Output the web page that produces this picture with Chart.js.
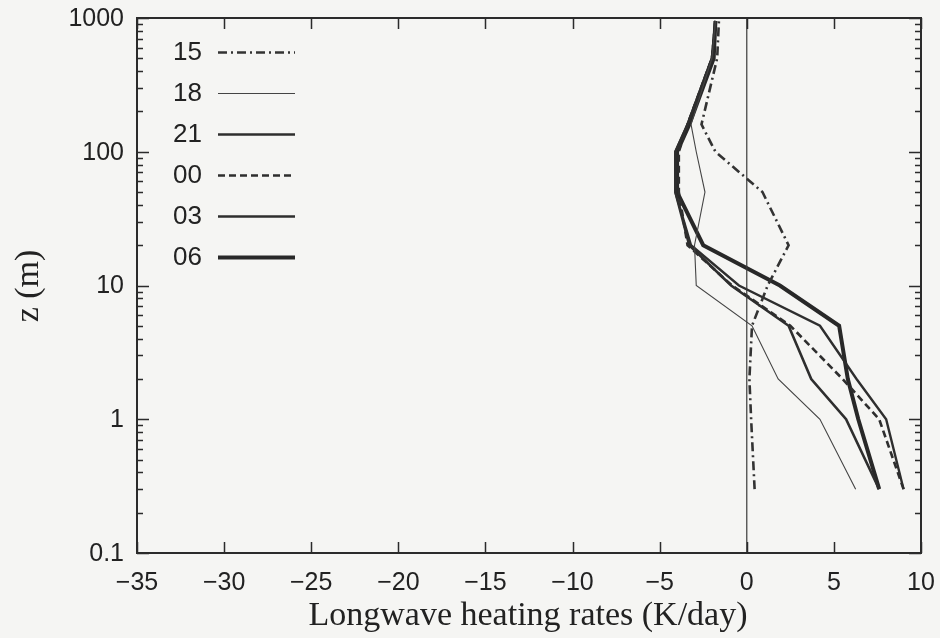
<!DOCTYPE html>
<html>
<head>
<meta charset="utf-8">
<script src="https://cdn.jsdelivr.net/npm/chart.js@4"></script>
<style>
  html, body { margin: 0; padding: 0; background: #f5f5f3; }
</style>
</head>
<body>
<canvas id="chart" width="940" height="638"></canvas>
<script>
// Heights of the model levels (m)
const heights = [0.3, 1, 2, 5, 10, 20, 50, 100, 160, 500, 950];

// Longwave heating rate profiles (K/day), one per hour of day
const hourLabels = ['15', '18', '21', '00', '03', '06'];
const rate15 = [0.45, 0.25, 0.15, 0.3, 1.2, 2.4, 0.9, -1.8, -2.6, -1.7, -1.6];
const rate18 = [6.25, 4.2, 1.8, 0.3, -2.9, -3.0, -2.4, -2.9, -3.2, -2.0, -1.8];
const rate21 = [9.0, 8.0, 6.3, 4.2, -0.45, -3.2, -4.1, -4.1, -3.4, -2.0, -1.8];
const rate00 = [9.0, 7.6, 5.5, 2.5, -0.85, -3.4, -3.9, -3.9, -3.4, -2.0, -1.8];
const rate03 = [7.6, 5.7, 3.7, 2.4, -0.9, -3.3, -4.1, -4.1, -3.4, -2.0, -1.8];
const rate06 = [7.6, 6.4, 5.8, 5.3, 1.9, -2.5, -4.0, -4.0, -3.3, -1.9, -1.8];

// Zero heating reference line
const zeroLineX = [0, 0];
const zeroLineZ = [0.1, 1000];

// Axis ticks
const xTicks = [-35, -30, -25, -20, -15, -10, -5, 0, 5, 10];
const xTickLabels = ['\u221235', '\u221230', '\u221225', '\u221220', '\u221215', '\u221210', '\u22125', '0', '5', '10'];
const yTicks = [0.1, 1, 10, 100, 1000];
const yTickLabels = ['0.1', '1', '10', '100', '1000'];

const ink = '#2b2b2b';

function profile(rates) {
  return heights.map((z, i) => ({ x: rates[i], y: z }));
}

const styles = [
  { rates: rate15, width: 2.6, dash: [9, 4, 2, 4], color: '#333' },
  { rates: rate18, width: 1.1, dash: [], color: '#444' },
  { rates: rate21, width: 2.4, dash: [], color: '#2e2e2e' },
  { rates: rate00, width: 2.6, dash: [7, 4], color: '#2e2e2e' },
  { rates: rate03, width: 2.6, dash: [], color: '#2e2e2e' },
  { rates: rate06, width: 4.0, dash: [], color: '#282828' }
];

const datasets = [{
  label: 'zero',
  data: zeroLineX.map((x, i) => ({ x: x, y: zeroLineZ[i] })),
  showLine: true, borderColor: '#3a3a3a', borderWidth: 1.2, pointRadius: 0, fill: false
}].concat(styles.map((s, i) => ({
  label: hourLabels[i],
  data: profile(s.rates),
  showLine: true,
  borderColor: s.color,
  borderWidth: s.width,
  borderDash: s.dash,
  pointRadius: 0,
  fill: false,
  tension: 0
})));

const framePlugin = {
  id: 'frame',
  beforeDraw(chart) {
    const c = chart.ctx;
    c.save();
    c.fillStyle = '#f5f5f3';
    c.fillRect(0, 0, chart.width, chart.height);
    c.restore();
  },
  afterDatasetsDraw(chart) {
    const c = chart.ctx;
    const a = chart.chartArea;
    const xs = chart.scales.x, ys = chart.scales.y;
    c.save();
    c.strokeStyle = ink;
    c.lineWidth = 2;
    c.setLineDash([]);
    c.strokeRect(a.left, a.top, a.right - a.left, a.bottom - a.top);

    // x ticks, inward on bottom and top
    c.lineWidth = 1.5;
    xTicks.forEach(v => {
      const px = Math.round(xs.getPixelForValue(v)) + 0.5;
      c.beginPath();
      c.moveTo(px, a.bottom); c.lineTo(px, a.bottom - 11);
      c.moveTo(px, a.top); c.lineTo(px, a.top + 11);
      c.stroke();
    });
    // y ticks, major and minor, inward on left and right
    const yMinor = [];
    for (let d = 0; d < yTicks.length - 1; d++) {
      for (let m = 2; m <= 9; m++) yMinor.push(yTicks[d] * m);
    }
    yTicks.forEach(v => {
      const py = Math.round(ys.getPixelForValue(v)) + 0.5;
      c.beginPath();
      c.moveTo(a.left, py); c.lineTo(a.left + 12, py);
      c.moveTo(a.right, py); c.lineTo(a.right - 12, py);
      c.stroke();
    });
    yMinor.forEach(v => {
      const py = Math.round(ys.getPixelForValue(v)) + 0.5;
      c.beginPath();
      c.moveTo(a.left, py); c.lineTo(a.left + 6, py);
      c.moveTo(a.right, py); c.lineTo(a.right - 6, py);
      c.stroke();
    });

    // tick labels
    c.fillStyle = '#222';
    c.font = '25px "Liberation Sans", Arial, sans-serif';
    c.textAlign = 'center';
    c.textBaseline = 'middle';
    xTicks.forEach((v, i) => {
      c.fillText(xTickLabels[i], xs.getPixelForValue(v), a.bottom + 30);
    });
    c.textAlign = 'right';
    yTicks.forEach((v, i) => {
      c.fillText(yTickLabels[i], a.left - 13, ys.getPixelForValue(v) + 1);
    });

    // axis titles
    c.font = '34px "Liberation Serif", "Times New Roman", serif';
    c.textAlign = 'center';
    c.textBaseline = 'middle';
    c.fillText('Longwave heating rates (K/day)', 528, 616);
    c.save();
    c.translate(29, 286);
    c.rotate(-Math.PI / 2);
    c.fillText('z (m)', 0, 0);
    c.restore();

    // legend inside the plot, text to the left of each line sample
    c.font = '26px "Liberation Sans", Arial, sans-serif';
    const rowTop = 52, rowStep = 41;
    styles.forEach((s, i) => {
      const y = rowTop + i * rowStep;
      c.fillStyle = '#222';
      c.textAlign = 'right';
      c.textBaseline = 'middle';
      c.fillText(hourLabels[i], 202, y + 1);
      c.strokeStyle = s.color;
      c.lineWidth = s.width;
      c.setLineDash(s.dash);
      c.beginPath();
      c.moveTo(218, y + 0.5);
      c.lineTo(295, y + 0.5);
      c.stroke();
    });
    c.restore();
  }
};

new Chart(document.getElementById('chart').getContext('2d'), {
  type: 'scatter',
  data: { datasets: datasets },
  options: {
    responsive: false,
    animation: false,
    devicePixelRatio: 1,
    layout: { padding: { left: 137, right: 19, top: 18, bottom: 85 } },
    scales: {
      x: { type: 'linear', min: -35, max: 10, display: false },
      y: { type: 'logarithmic', min: 0.1, max: 1000, display: false }
    },
    plugins: { legend: { display: false }, tooltip: { enabled: false } }
  },
  plugins: [framePlugin]
});
</script>
</body>
</html>
